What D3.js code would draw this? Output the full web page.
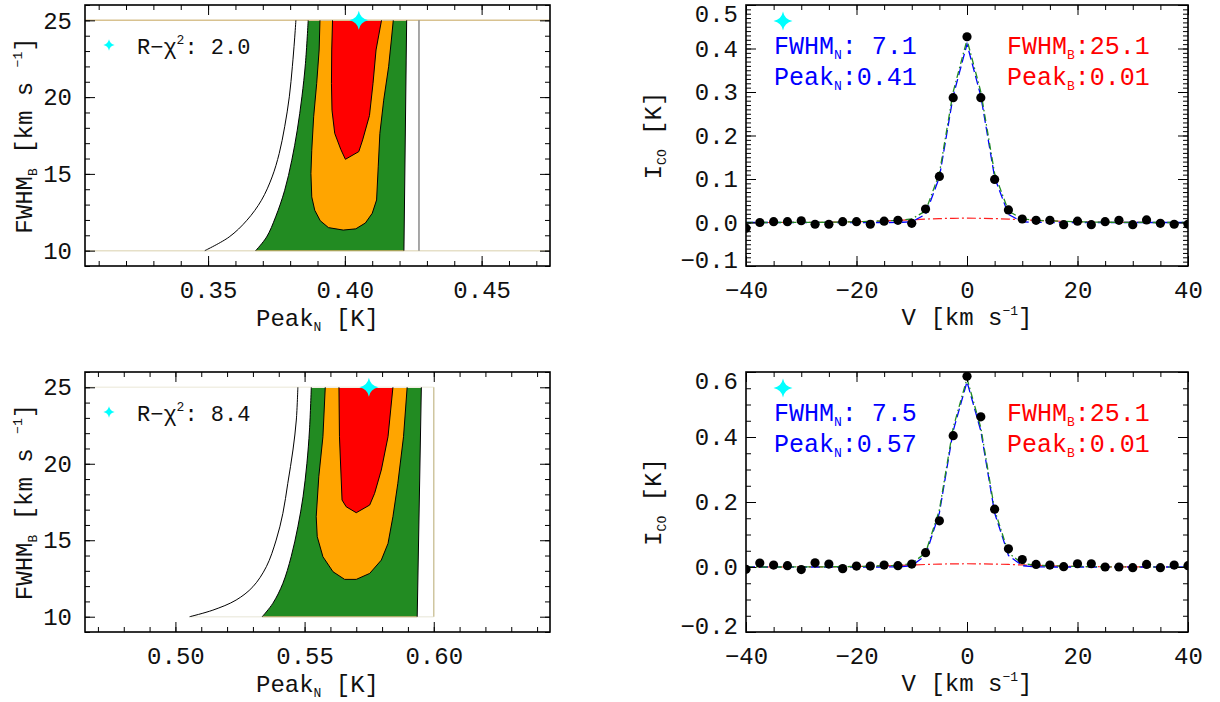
<!DOCTYPE html>
<html>
<head>
<meta charset="utf-8">
<script src="https://cdn.jsdelivr.net/npm/d3@7"></script>
<style>
  body { margin: 0; background: #fff; }
  svg { display: block; }
</style>
</head>
<body>
<svg id="fig" width="1220" height="702"></svg>
<script>
// ---------------- spectra: channel velocities (km/s) ----------------
const velocity = [-40,-37.5,-35,-32.5,-30,-27.5,-25,-22.5,-20,-17.5,-15,-12.5,-10,-7.5,-5,-2.5,0,
                  2.5,5,7.5,10,12.5,15,17.5,20,22.5,25,27.5,30,32.5,35,37.5,40];

// observed intensities (K), upper spectrum
const obsUpper = [-0.013,0.000,0.002,0.002,0.004,-0.004,-0.004,0.002,0.002,-0.004,0.003,0.005,-0.002,
                  0.031,0.106,0.287,0.427,0.287,0.099,0.029,
                  0.008,0.005,0.005,-0.005,0.003,-0.005,0.002,0.005,-0.005,0.006,-0.002,-0.004,-0.004];
// narrow component, broad component and their sum, upper spectrum
const narrowUpper = [0,0,0,0,0,0,0,0,0,0,0,0.0001,0.0017,0.0186,0.1037,0.2908,0.41,
                     0.2908,0.1037,0.0186,0.0017,0.0001,0,0,0,0,0,0,0,0,0,0,0];
const broadUpper = [0,0,0,0.0001,0.0002,0.0004,0.0006,0.0011,0.0017,0.0026,0.0037,0.0050,0.0064,0.0078,0.0090,0.0097,0.0100,
                    0.0097,0.0090,0.0078,0.0064,0.0050,0.0037,0.0026,0.0017,0.0011,0.0006,0.0004,0.0002,0.0001,0,0,0];
const totalUpper = [0,0,0,0.0001,0.0002,0.0004,0.0006,0.0011,0.0017,0.0026,0.0037,0.0051,0.0081,0.0264,0.1127,0.3005,0.42,
                    0.3005,0.1127,0.0264,0.0081,0.0051,0.0037,0.0026,0.0017,0.0011,0.0006,0.0004,0.0002,0.0001,0,0,0];

// observed intensities (K), lower spectrum
const obsLower = [-0.007,0.012,0.006,0.004,-0.008,0.013,0.009,-0.005,0.003,0.003,0.006,0.004,0.009,
                  0.044,0.142,0.404,0.587,0.462,0.178,0.056,
                  0.023,0.008,0.006,0.001,0.010,0.010,0.000,0.000,-0.002,0.008,-0.002,0.006,0.004];
const narrowLower = [0,0,0,0,0,0,0,0,0,0,0,0.0003,0.0041,0.0356,0.1663,0.4189,0.57,
                     0.4189,0.1663,0.0356,0.0041,0.0003,0,0,0,0,0,0,0,0,0,0,0];
const broadLower = [0,0,0,0.0001,0.0002,0.0004,0.0006,0.0011,0.0017,0.0026,0.0037,0.0050,0.0064,0.0078,0.0090,0.0097,0.0100,
                    0.0097,0.0090,0.0078,0.0064,0.0050,0.0037,0.0026,0.0017,0.0011,0.0006,0.0004,0.0002,0.0001,0,0,0];
const totalLower = [0,0,0,0.0001,0.0002,0.0004,0.0006,0.0011,0.0017,0.0026,0.0037,0.0053,0.0105,0.0434,0.1753,0.4286,0.58,
                    0.4286,0.1753,0.0434,0.0105,0.0053,0.0037,0.0026,0.0017,0.0011,0.0006,0.0004,0.0002,0.0001,0,0,0];

// fitted parameters printed in each spectrum: FWHM_N, Peak_N, FWHM_B, Peak_B
const fitUpper = ["7.1", "0.41", "25.1", "0.01"];
const fitLower = ["7.5", "0.57", "25.1", "0.01"];

// ---------------- reduced chi-square maps: [Peak_N, FWHM_B] ----------------
const chiUpper = "2.0";
const bestUpper = [0.4051, 25];
const outerUpper = [[0.3488,10],[0.3577,10.89],[0.3642,11.98],[0.3695,13.28],[0.3734,14.80],[0.3760,16.33],
                    [0.3780,18.07],[0.3797,20.02],[0.3808,21.98],[0.3816,23.72],[0.3821,25]];
const greenLeftUpper = [[0.3674,10],[0.3714,10.89],[0.3747,12.2],[0.3780,13.93],[0.3806,15.89],[0.3826,17.85],
                        [0.3843,20.02],[0.3856,22.2],[0.3866,25]];
const greenRightUpper = [[0.4216,10],[0.4226,25]];
const edgeUpper = 0.4271;
const orangeUpper = [[0.3909,25],[0.3906,23.07],[0.3897,20.89],[0.3886,18.72],[0.3879,16.54],[0.3876,15.03],
                     [0.3879,13.50],[0.3890,12.63],[0.3910,11.95],[0.3940,11.50],[0.3994,11.34],[0.4040,11.42],
                     [0.4075,11.80],[0.4100,12.43],[0.4116,13.30],[0.4122,15.46],[0.4128,17.63],[0.4142,19.80],
                     [0.4160,21.98],[0.4170,23.72],[0.4177,25]];
const redUpper = [[0.3955,25],[0.3952,23.07],[0.3951,20.89],[0.3953,19.15],[0.3963,17.64],[0.3985,16.6],
                  [0.4002,15.95],[0.4051,16.45],[0.4065,17.21],[0.4090,18.8],[0.4103,20.9],[0.4114,23.07],[0.4134,25]];

const chiLower = "8.4";
const bestLower = [0.5749, 25];
const outerLower = [[0.5055,10],[0.5145,10.43],[0.5235,11.09],[0.5300,11.96],[0.5352,13.27],[0.5390,15.01],
                    [0.5416,16.76],[0.5435,18.72],[0.5455,20.90],[0.5468,22.86],[0.5474,25]];
const greenLeftLower = [[0.5336,10],[0.5377,10.87],[0.5416,12.18],[0.5448,13.92],[0.5474,15.88],[0.5494,17.84],
                        [0.5509,20.03],[0.5519,22.21],[0.5526,25]];
const greenRightLower = [[0.5936,10],[0.5952,25]];
const edgeLower = 0.60;
const orangeLower = [[0.5580,25],[0.5571,21.77],[0.5555,19.15],[0.5545,16.54],[0.5549,15.23],[0.5571,13.92],
                     [0.5610,12.94],[0.5655,12.44],[0.5700,12.44],[0.5752,12.83],[0.5797,13.70],[0.5823,14.79],
                     [0.5842,16.54],[0.5861,18.72],[0.5883,21.77],[0.5897,25]];
const redLower = [[0.5633,25],[0.5635,21.77],[0.5645,17.63],[0.5661,17.19],[0.5700,16.80],[0.5752,17.30],
                  [0.5771,18.06],[0.5797,19.59],[0.5823,21.77],[0.5842,25]];

// ---------------- axis ticks ----------------
const peakTicksUpper = [0.35, 0.40, 0.45];
const peakTicksLower = [0.50, 0.55, 0.60];
const fwhmTicks = [10, 15, 20, 25];
const velTicks = [-40, -20, 0, 20, 40];
const icoTicksUpper = [-0.1, 0.0, 0.1, 0.2, 0.3, 0.4, 0.5];
const icoTicksLower = [-0.2, 0.0, 0.2, 0.4, 0.6];

// ---------------- drawing ----------------
const FONT = '"Liberation Mono", "Courier New", monospace';
const svg = d3.select("#fig").attr("font-family", FONT);
const rows = [[5, 266], [372, 632]];
const leftCol = [85, 550];
const rightCol = [746, 1188];
const minus = s => s.replace("-", "\u2212");

// four-pointed star marker
const star4 = {
  draw(ctx, size) {
    const r = Math.sqrt(size), k = r * 0.16;
    ctx.moveTo(0, -r);
    ctx.quadraticCurveTo(k, -k, r, 0);
    ctx.quadraticCurveTo(k, k, 0, r);
    ctx.quadraticCurveTo(-k, k, -r, 0);
    ctx.quadraticCurveTo(-k, -k, 0, -r);
    ctx.closePath();
  }
};

function addAxis(g, axis, transform, fontSize) {
  const a = g.append("g").attr("transform", transform).call(axis);
  a.select(".domain").remove();
  a.selectAll(".tick line").attr("stroke", "#000").attr("stroke-width", 1);
  if (fontSize) {
    a.attr("font-family", FONT).attr("font-size", fontSize);
    a.selectAll(".tick text").attr("fill", "#111").attr("font-size", fontSize);
  } else {
    a.attr("font-size", null).attr("font-family", null);
    a.selectAll(".tick text").remove();
  }
  return a;
}

function frame(g, x, y, o) {
  const [x0, x1] = x.range(), [y1, y0] = y.range();
  // major + minor ticks on all four sides, pointing inward
  addAxis(g, d3.axisBottom(x).tickValues(o.xMinor).tickSize(-5), `translate(0,${y1})`);
  addAxis(g, d3.axisTop(x).tickValues(o.xMinor).tickSize(-5), `translate(0,${y0})`);
  addAxis(g, d3.axisLeft(y).tickValues(o.yMinor).tickSize(-5), `translate(${x0},0)`);
  addAxis(g, d3.axisRight(y).tickValues(o.yMinor).tickSize(-5), `translate(${x1},0)`);
  addAxis(g, d3.axisBottom(x).tickValues(o.xMajor).tickSize(-10).tickPadding(15).tickFormat(o.xFmt),
          `translate(0,${y1})`, 24);
  addAxis(g, d3.axisTop(x).tickValues(o.xMajor).tickSize(-10), `translate(0,${y0})`);
  const ya = addAxis(g, d3.axisLeft(y).tickValues(o.yMajor).tickSize(-10).tickPadding(o.yPad).tickFormat(o.yFmt),
          `translate(${x0},0)`, 24);
  addAxis(g, d3.axisRight(y).tickValues(o.yMajor).tickSize(-10), `translate(${x1},0)`);
  // keep end labels inside the frame height
  const [d0, d1] = y.domain();
  ya.selectAll(".tick text").attr("y", d => Math.abs(d - d1) < 1e-9 ? 8.5 : Math.abs(d - d0) < 1e-9 ? -6 : 0);
  g.append("rect").attr("x", x0).attr("y", y0).attr("width", x1 - x0).attr("height", y1 - y0)
    .attr("fill", "none").attr("stroke", "#000").attr("stroke-width", 1.6);
}

// text with sub/superscripts; the baseline is restored on the following run
function richText(sel, parts, size) {
  sel.attr("font-size", size);
  let pending = 0;
  parts.forEach(p => {
    if (typeof p === "string") {
      const t = sel.append("tspan").attr("font-size", size).text(p);
      if (pending) t.attr("dy", pending);
      pending = 0;
      return;
    }
    const shift = p.sub ? 5 : -10;
    sel.append("tspan").attr("font-size", 13).attr("dy", shift - pending).text(p.sub || p.sup);
    pending = -shift;
  });
}

let clipId = 0;
function clipFor(g, x, y) {
  const id = "clip" + (clipId++);
  const [x0, x1] = x.range(), [y1, y0] = y.range();
  svg.append("clipPath").attr("id", id).append("rect")
    .attr("x", x0).attr("y", y0).attr("width", x1 - x0).attr("height", y1 - y0);
  return g.append("g").attr("clip-path", `url(#${id})`);
}

// ---- chi-square map panel ----
function chiPanel(row, xDomain, ticks, outer, greenLeft, greenRight, edge, orange, red, best, chi, light) {
  const [top, bottom] = rows[row];
  const x = d3.scaleLinear().domain(xDomain).range(leftCol);
  const y = d3.scaleLinear().domain([9, 26]).range([bottom, top]);
  const g = svg.append("g");
  const c = clipFor(g, x, y);
  const smooth = d3.curveCatmullRom.alpha(0.5);
  const line = d3.line().x(d => x(d[0])).y(d => y(d[1]));
  const smoothLine = d3.line().x(d => x(d[0])).y(d => y(d[1])).curve(smooth);

  // outermost confidence band: smooth left boundary, straight right boundary
  const rightAt = d3.scaleLinear().domain(greenRight.map(d => d[1])).range(greenRight.map(d => d[0]));
  const greenArea = d3.area().curve(smooth).y(d => y(d[1])).x0(d => x(d[0])).x1(d => x(rightAt(d[1])));
  c.append("path").attr("d", greenArea(greenLeft)).attr("fill", "#228b22");
  c.append("path").attr("d", line(orange) + "Z").attr("fill", "#ffa500");
  c.append("path").attr("d", line(red) + "Z").attr("fill", "#ff0000");

  // edges of the fitted grid
  c.append("line").attr("x1", x(xDomain[0])).attr("x2", light ? x(edge) : x(xDomain[1]))
    .attr("y1", y(25)).attr("y2", y(25)).attr("stroke", light ? "#f1efe4" : "#d8c290").attr("stroke-width", 1.5);
  c.append("line").attr("x1", light ? x(outer[0][0]) : x(xDomain[0])).attr("x2", light ? x(edge) : x(xDomain[1]))
    .attr("y1", y(10)).attr("y2", y(10)).attr("stroke", light ? "#efeee4" : "#e6e0c8").attr("stroke-width", 1.5);
  c.append("line").attr("x1", x(edge)).attr("x2", x(edge)).attr("y1", y(10)).attr("y2", y(25))
    .attr("stroke", light ? "#cfc6a0" : "#8a8a8a").attr("stroke-width", 1.5);
  c.append("line").attr("x1", x(greenLeft[0][0])).attr("x2", x(greenRight[0][0]))
    .attr("y1", y(10)).attr("y2", y(10)).attr("stroke", "#9c9a4a").attr("stroke-width", 1);

  [outer, greenLeft].forEach(b =>
    c.append("path").attr("d", smoothLine(b)).attr("fill", "none").attr("stroke", "#000").attr("stroke-width", 1));
  [greenRight, orange, red].forEach(b =>
    c.append("path").attr("d", line(b)).attr("fill", "none").attr("stroke", "#000").attr("stroke-width", 1));

  g.append("path").attr("transform", `translate(${x(best[0])},${y(best[1])})`)
    .attr("d", d3.symbol(star4, 90)()).attr("fill", "#00ffff");

  frame(g, x, y, {
    xMajor: ticks, xMinor: d3.range(Math.ceil(xDomain[0] * 100), Math.floor(xDomain[1] * 100) + 1).map(v => v / 100),
    yMajor: fwhmTicks, yMinor: d3.range(9, 27), xFmt: d3.format(".2f"), yFmt: d3.format("d"), yPad: 13
  });

  // legend
  g.append("path").attr("transform", `translate(109,${top + 40})`)
    .attr("d", d3.symbol(star4, 32)()).attr("fill", "#00ffff");
  const t = g.append("text").attr("x", 137).attr("y", top + 49).attr("fill", "#111");
  richText(t, ["R\u2212\u03c7", { sup: "2" }, ": " + chi], 22);

  // axis titles
  const xt = g.append("text").attr("x", (leftCol[0] + leftCol[1]) / 2).attr("y", bottom + 60)
    .attr("text-anchor", "middle").attr("fill", "#111");
  richText(xt, ["Peak", { sub: "N" }, " [K]"], 24);
  const yt = g.append("text").attr("transform", `translate(32,${(top + bottom) / 2}) rotate(-90)`)
    .attr("text-anchor", "middle").attr("fill", "#111");
  richText(yt, ["FWHM", { sub: "B" }, " [km s ", { sup: "\u22121" }, "]"], 24);
}

// ---- spectrum panel ----
function specPanel(row, yDomain, yTicks, yMinorStep, obs, narrow, broad, total, fit) {
  const [top, bottom] = rows[row];
  const x = d3.scaleLinear().domain([-40, 40]).range(rightCol);
  const y = d3.scaleLinear().domain(yDomain).range([bottom, top]);
  const g = svg.append("g");
  const c = clipFor(g, x, y);
  const line = arr => d3.line().x((d, i) => x(velocity[i])).y(d => y(d))(arr);

  c.append("path").attr("d", line(broad)).attr("fill", "none").attr("stroke", "#ff2020")
    .attr("stroke-width", 1.2).attr("stroke-dasharray", "9,3,2,3");
  c.append("path").attr("d", line(narrow)).attr("fill", "none").attr("stroke", "#0000ff")
    .attr("stroke-width", 1.3).attr("stroke-dasharray", "9,4");
  c.append("path").attr("d", line(total)).attr("fill", "none").attr("stroke", "#228b22")
    .attr("stroke-width", 1.3).attr("stroke-dasharray", "7,3,1.5,3");
  c.selectAll("circle").data(obs).join("circle")
    .attr("cx", (d, i) => x(velocity[i])).attr("cy", d => y(d)).attr("r", 4.6).attr("fill", "#000");

  const nMinor = Math.round((yDomain[1] - yDomain[0]) / yMinorStep);
  frame(g, x, y, {
    xMajor: velTicks, xMinor: d3.range(-40, 41, 5),
    yMajor: yTicks, yMinor: d3.range(nMinor + 1).map(i => yDomain[0] + i * yMinorStep),
    xFmt: d => minus(d3.format("d")(d)), yFmt: d => minus(d3.format(".1f")(d)), yPad: 8
  });

  // fit summary
  g.append("path").attr("transform", `translate(783,${top + 16})`)
    .attr("d", d3.symbol(star4, 90)()).attr("fill", "#00ffff");
  const l1 = g.append("text").attr("x", 774).attr("y", top + 49).attr("fill", "#0000ff");
  richText(l1, ["FWHM", { sub: "N" }, ": " + fit[0]], 25);
  const l2 = g.append("text").attr("x", 774).attr("y", top + 80).attr("fill", "#0000ff");
  richText(l2, ["Peak", { sub: "N" }, ":" + fit[1]], 25);
  const r1 = g.append("text").attr("x", 1007).attr("y", top + 49).attr("fill", "#ff0000");
  richText(r1, ["FWHM", { sub: "B" }, ":" + fit[2]], 25);
  const r2 = g.append("text").attr("x", 1007).attr("y", top + 80).attr("fill", "#ff0000");
  richText(r2, ["Peak", { sub: "B" }, ":" + fit[3]], 25);

  // axis titles
  const xt = g.append("text").attr("x", (rightCol[0] + rightCol[1]) / 2).attr("y", bottom + 59)
    .attr("text-anchor", "middle").attr("fill", "#111");
  richText(xt, ["V [km s", { sup: "\u22121" }, "]"], 24);
  const yt = g.append("text").attr("transform", `translate(661,${(top + bottom) / 2}) rotate(-90)`)
    .attr("text-anchor", "middle").attr("fill", "#111");
  richText(yt, ["I", { sub: "CO" }, " [K]"], 24);
}

chiPanel(0, [0.305, 0.475], peakTicksUpper, outerUpper, greenLeftUpper, greenRightUpper, edgeUpper,
         orangeUpper, redUpper, bestUpper, chiUpper, false);
chiPanel(1, [0.465, 0.645], peakTicksLower, outerLower, greenLeftLower, greenRightLower, edgeLower,
         orangeLower, redLower, bestLower, chiLower, true);
specPanel(0, [-0.1, 0.5], icoTicksUpper, 0.01, obsUpper, narrowUpper, broadUpper, totalUpper, fitUpper);
specPanel(1, [-0.2, 0.6], icoTicksLower, 0.05, obsLower, narrowLower, broadLower, totalLower, fitLower);
</script>
</body>
</html>
